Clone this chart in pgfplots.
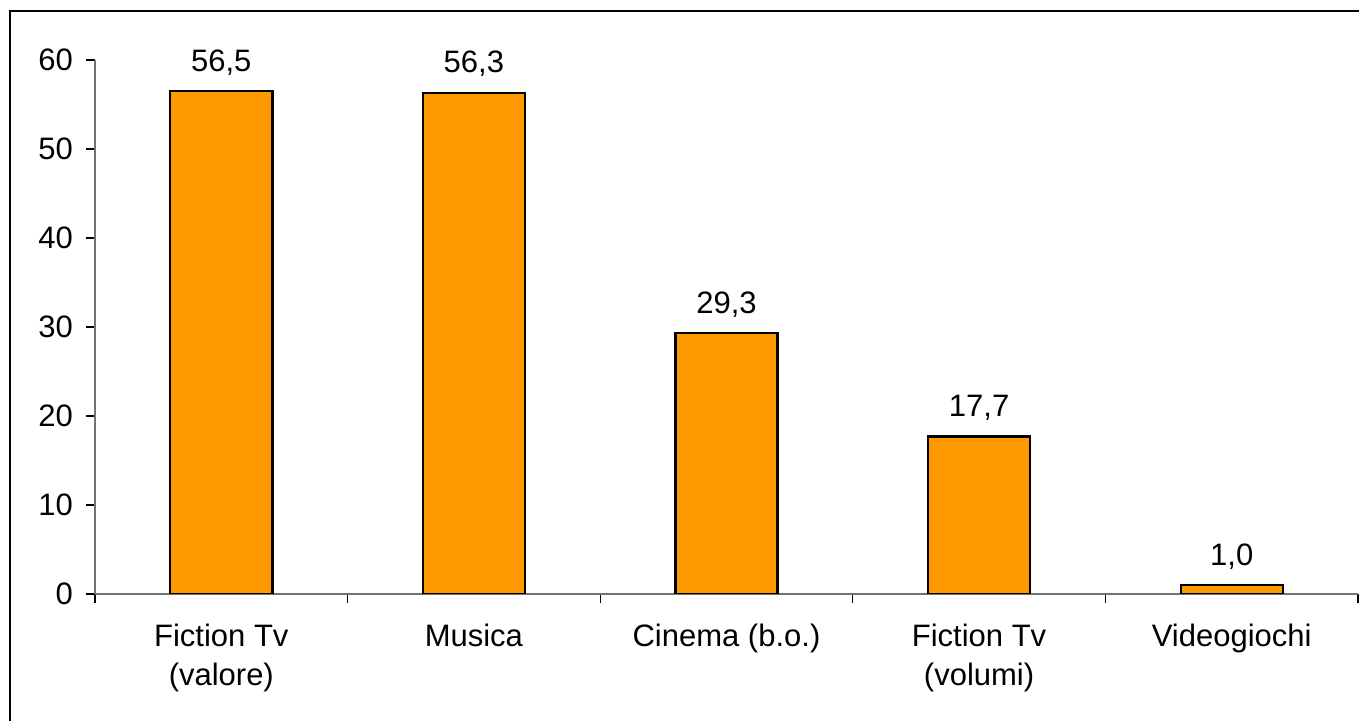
\documentclass[border=0pt]{standalone}
\usepackage{pgfplots}
\pgfplotsset{compat=1.18}
\usepackage{fontspec}
\setmainfont{Liberation Sans}
\definecolor{barorange}{HTML}{FF9900}
\begin{document}
\begin{tikzpicture}
\useasboundingbox (-47.5pt,-63.5pt) rectangle (632pt,297pt);
\draw[line width=0.6pt] (-42.5pt,-70pt) -- (-42.5pt,291.5pt) -- (640pt,291.5pt);
\begin{axis}[
  at={(0pt,0pt)}, anchor=south west,
  width=631.5pt, height=267pt, scale only axis,
  xmin=-0.5, xmax=4.5, ymin=0, ymax=60,
  ytick={0,10,20,30,40,50,60},
  xtick={-0.5,0.5,1.5,2.5,3.5,4.5},
  x tick label as interval,
  xticklabels={{Fiction Tv\\(valore)},{Musica},{Cinema (b.o.)},{Fiction Tv\\(volumi)},{Videogiochi}},
  axis x line*=bottom, axis y line*=left,
  axis line style={-, black!55, line width=0.7pt},
  tick align=outside,
  major tick length=4.5pt,
  tick style={black, line width=0.6pt},
  /pgf/number format/assume math mode=true,
  tick label style={font=\fontsize{15.5}{19.5}\selectfont},
  x tick label style={align=center, yshift=-7pt},
  y tick label style={xshift=-3pt},
  nodes near coords={\pgfmathprintnumber[fixed,fixed zerofill,precision=1,use comma]{\pgfplotspointmeta}},
  nodes near coords style={font=\fontsize{15.5}{19.5}\selectfont, anchor=base, yshift=10pt, black},
]
\addplot[ybar, bar width=51pt, fill=barorange, draw=black, line width=1.2pt]
  coordinates {(0,56.5) (1,56.3) (2,29.3) (3,17.7) (4,1.0)};
\end{axis}
\end{tikzpicture}
\end{document}
